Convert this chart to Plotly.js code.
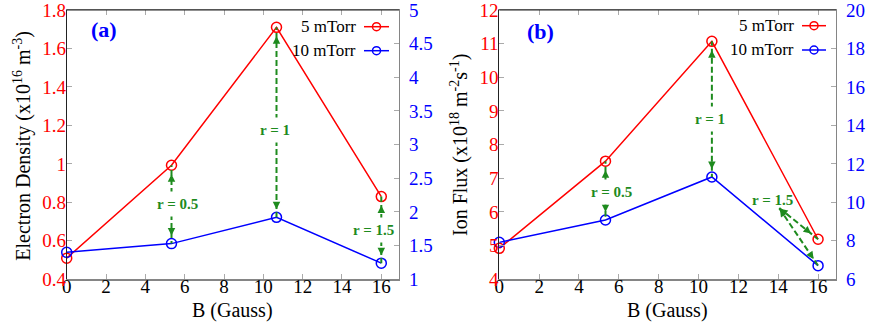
<!DOCTYPE html>
<html>
<head>
<meta charset="utf-8">
<script src="https://cdn.plot.ly/plotly-3.0.1.min.js"></script>
<style>
  html, body { margin: 0; padding: 0; background: #fff; }
  #chart { width: 872px; height: 322px; }
</style>
</head>
<body>
<div id="chart"></div>
<script>
// data
const B = [0, 5.33, 10.67, 16];
const seriesNames = ["5 mTorr", "10 mTorr"];
const density5 = [0.51, 0.993, 1.71, 0.83];
const density10 = [1.40, 1.53, 1.92, 1.24];
const flux5 = [4.92, 7.51, 11.07, 5.19];
const flux10 = [7.92, 9.08, 11.32, 6.71];

const xTicks = [0, 2, 4, 6, 8, 10, 12, 14, 16];
const densityTicks = [0.4, 0.6, 0.8, 1, 1.2, 1.4, 1.6, 1.8];
const density10Ticks = [1, 1.5, 2, 2.5, 3, 3.5, 4, 4.5, 5];
const fluxTicks = [4, 5, 6, 7, 8, 9, 10, 11, 12];
const flux10Ticks = [6, 8, 10, 12, 14, 16, 18, 20];

const xTitle = "B (Gauss)";
const densityTitle = "Electron Density (x10<sup>16</sup> m<sup>-3</sup>)";
const fluxTitle = "Ion Flux (x10<sup>18</sup> m<sup>-2</sup>s<sup>-1</sup>)";

const ratioLabels = ["r = 0.5", "r = 1", "r = 1.5"];
// where the ratio labels sit (data units of the left axis)
const labelPosA = [[5.63, 0.791], [10.57, 1.176], [15.58, 0.656]];
const labelPosB = [[5.63, 6.60], [10.56, 8.77], [13.7, 6.35]];
// where the arrows start from
const arrowFromA = [[5.33, 0.791], [10.67, 1.176], [16, 0.656]];
const arrowFromB = [[5.33, 6.60], [10.67, 8.77], [14.03, 6.13]];

const W = 872, H = 322;
const fx = px => px / W;
const fy = py => 1 - py / H;

const RED = "#ff0000";
const BLUE = "#0000ff";
const GREEN = "#1e8b1e";
const FRAME = "#222";
const GREY = "#858585";
const FONT = "Liberation Serif";

function toLeft(v, right, left) {
  return left[0] + (v - right[0]) / (right[1] - right[0]) * (left[1] - left[0]);
}

function xAxis(domain, anchor) {
  return {
    domain, anchor,
    range: [0, 16.9],
    tickvals: xTicks,
    ticks: "inside", ticklen: 5, tickcolor: "#aaa",
    showline: true, linecolor: GREY, linewidth: 1.3, mirror: "ticks",
    showgrid: false, zeroline: false,
    ticklabelstandoff: -10,
    tickfont: { family: FONT, size: 19, color: "#000" }
  };
}

function yLeft(domain, anchor, range, ticks) {
  return {
    domain, anchor, range,
    tickvals: ticks,
    ticks: "inside", ticklen: 5, tickcolor: "#aaa",
    showline: true, linecolor: FRAME,
    showgrid: false, zeroline: false,
    ticklabeloverflow: "allow",
    ticklabelstandoff: -4,
    tickfont: { family: FONT, size: 19, color: RED }
  };
}

function yRight(overlay, anchor, range, ticks) {
  return {
    overlaying: overlay, anchor, side: "right", range,
    tickvals: ticks,
    ticks: "inside", ticklen: 5, tickcolor: "#aaa",
    showline: true, linecolor: GREY, linewidth: 1.3,
    showgrid: false, zeroline: false,
    ticklabeloverflow: "allow",
    ticklabelstandoff: 5,
    tickfont: { family: FONT, size: 19, color: BLUE }
  };
}

function series(y, color, xa, ya) {
  return {
    type: "scatter", mode: "lines+markers",
    x: B, y, xaxis: xa, yaxis: ya,
    cliponaxis: false,
    line: { color, width: 1.5 },
    marker: { symbol: "circle-open", size: 10, color, line: { width: 1.5, color } },
    hoverinfo: "skip"
  };
}

const traces = [
  series(density5, RED, "x", "y"),
  series(density10, BLUE, "x", "y2"),
  series(flux5, RED, "x2", "y3"),
  series(flux10, BLUE, "x2", "y4")
];

const rangeA = [0.4, 1.8], rangeA2 = [1, 5];
const rangeB = [4, 12], rangeB2 = [6, 20];

const annotations = [];
const shapes = [];

// dark top edge of each frame
["x", "x2"].forEach((xa, i) => {
  shapes.push({
    type: "line", xref: xa + " domain", yref: (i ? "y3" : "y") + " domain",
    x0: 0, x1: 1, y0: 1, y1: 1, line: { color: FRAME, width: 1.2 }
  });
});

function arrow(xref, yref, from, to, stand, startStand, both) {
  annotations.push({
    xref, yref, axref: xref, ayref: yref,
    x: to[0], y: to[1], ax: from[0], ay: from[1],
    text: " ", font: { size: 1 }, borderpad: 0,
    showarrow: true, arrowhead: 2, startarrowhead: 2,
    arrowside: both ? "end+start" : "end",
    arrowsize: 0.75, startarrowsize: 0.75, arrowwidth: 2, arrowcolor: GREEN,
    standoff: stand, startstandoff: startStand
  });
}

function panelArrows(xref, yref, reds, blues, rightR, leftR, from, labels) {
  for (let i = 1; i < B.length; i++) {
    const redPt = [B[i], reds[i]];
    const bluePt = [B[i], toLeft(blues[i], rightR, leftR)];
    const diag = from[i - 1][0] !== B[i];
    arrow(xref, yref, from[i - 1], redPt, 9, diag ? 1 : 13, diag);
    arrow(xref, yref, from[i - 1], bluePt, 8, diag ? 1 : 13, diag);
    annotations.push({
      xref, yref, x: labels[i - 1][0], y: labels[i - 1][1],
      xanchor: "center", yanchor: "middle",
      text: "<b>" + ratioLabels[i - 1] + "</b>", showarrow: false,
      bgcolor: diag ? "rgba(0,0,0,0)" : "#fff", borderpad: 4,
      font: { family: FONT, size: 15, color: GREEN }
    });
  }
}

panelArrows("x", "y", density5, density10, rangeA2, rangeA, arrowFromA, labelPosA);
panelArrows("x2", "y3", flux5, flux10, rangeB2, rangeB, arrowFromB, labelPosB);

// panel tags and axis titles
const titleFont = { family: FONT, size: 20, color: "#000" };
function paperText(px, py, text, font, angle) {
  annotations.push({
    xref: "paper", yref: "paper", x: fx(px), y: fy(py),
    xanchor: "center", yanchor: "middle",
    text, textangle: angle || 0, showarrow: false, font
  });
}
paperText(104, 30, "<b>(a)</b>", { family: FONT, size: 22, color: BLUE });
paperText(540, 32, "<b>(b)</b>", { family: FONT, size: 22, color: BLUE });
paperText(232, 310, xTitle, titleFont);
paperText(667, 310, xTitle, titleFont);
paperText(21.7, 146, densityTitle, titleFont, -90);
paperText(459, 145, fluxTitle, titleFont, -90);

// hand drawn legends, key to the right of the name
function legend(textRight, keyLeft, keyRight, rows) {
  const colors = [RED, BLUE];
  rows.forEach((py, i) => {
    annotations.push({
      xref: "paper", yref: "paper", x: fx(textRight), y: fy(py),
      xanchor: "right", yanchor: "middle", text: seriesNames[i], showarrow: false,
      font: { family: FONT, size: 17, color: "#000" }
    });
    shapes.push({
      type: "line", xref: "paper", yref: "paper",
      x0: fx(keyLeft), x1: fx(keyRight), y0: fy(py), y1: fy(py),
      line: { color: colors[i], width: 1.5 }
    });
    shapes.push({
      type: "circle", xref: "paper", yref: "paper",
      xsizemode: "pixel", ysizemode: "pixel",
      xanchor: fx((keyLeft + keyRight) / 2), yanchor: fy(py),
      x0: -4, x1: 4, y0: -4, y1: 4,
      line: { color: colors[i], width: 1.5 }
    });
  });
}
legend(358, 364, 389, [26.7, 50.7]);
legend(796, 802, 826, [25.7, 50]);

const layout = {
  width: W, height: H,
  margin: { l: 0, r: 0, t: 0, b: 0 },
  paper_bgcolor: "#fff", plot_bgcolor: "#fff",
  showlegend: false,
  font: { family: FONT, size: 19, color: "#000" },
  xaxis: xAxis([fx(66.7), fx(399)], "y"),
  xaxis2: xAxis([fx(499.3), fx(836)], "y3"),
  yaxis: yLeft([fy(279.3), fy(10)], "x", rangeA, densityTicks),
  yaxis2: yRight("y", "x", rangeA2, density10Ticks),
  yaxis3: yLeft([fy(279.3), fy(10)], "x2", rangeB, fluxTicks),
  yaxis4: yRight("y3", "x2", rangeB2, flux10Ticks),
  annotations, shapes
};

Plotly.newPlot("chart", traces, layout, { staticPlot: true, displayModeBar: false }).then(gd => {
  gd.querySelectorAll(".annotation-arrow-g path").forEach(p => {
    p.style.strokeDasharray = "6,3";
  });
});
</script>
</body>
</html>
